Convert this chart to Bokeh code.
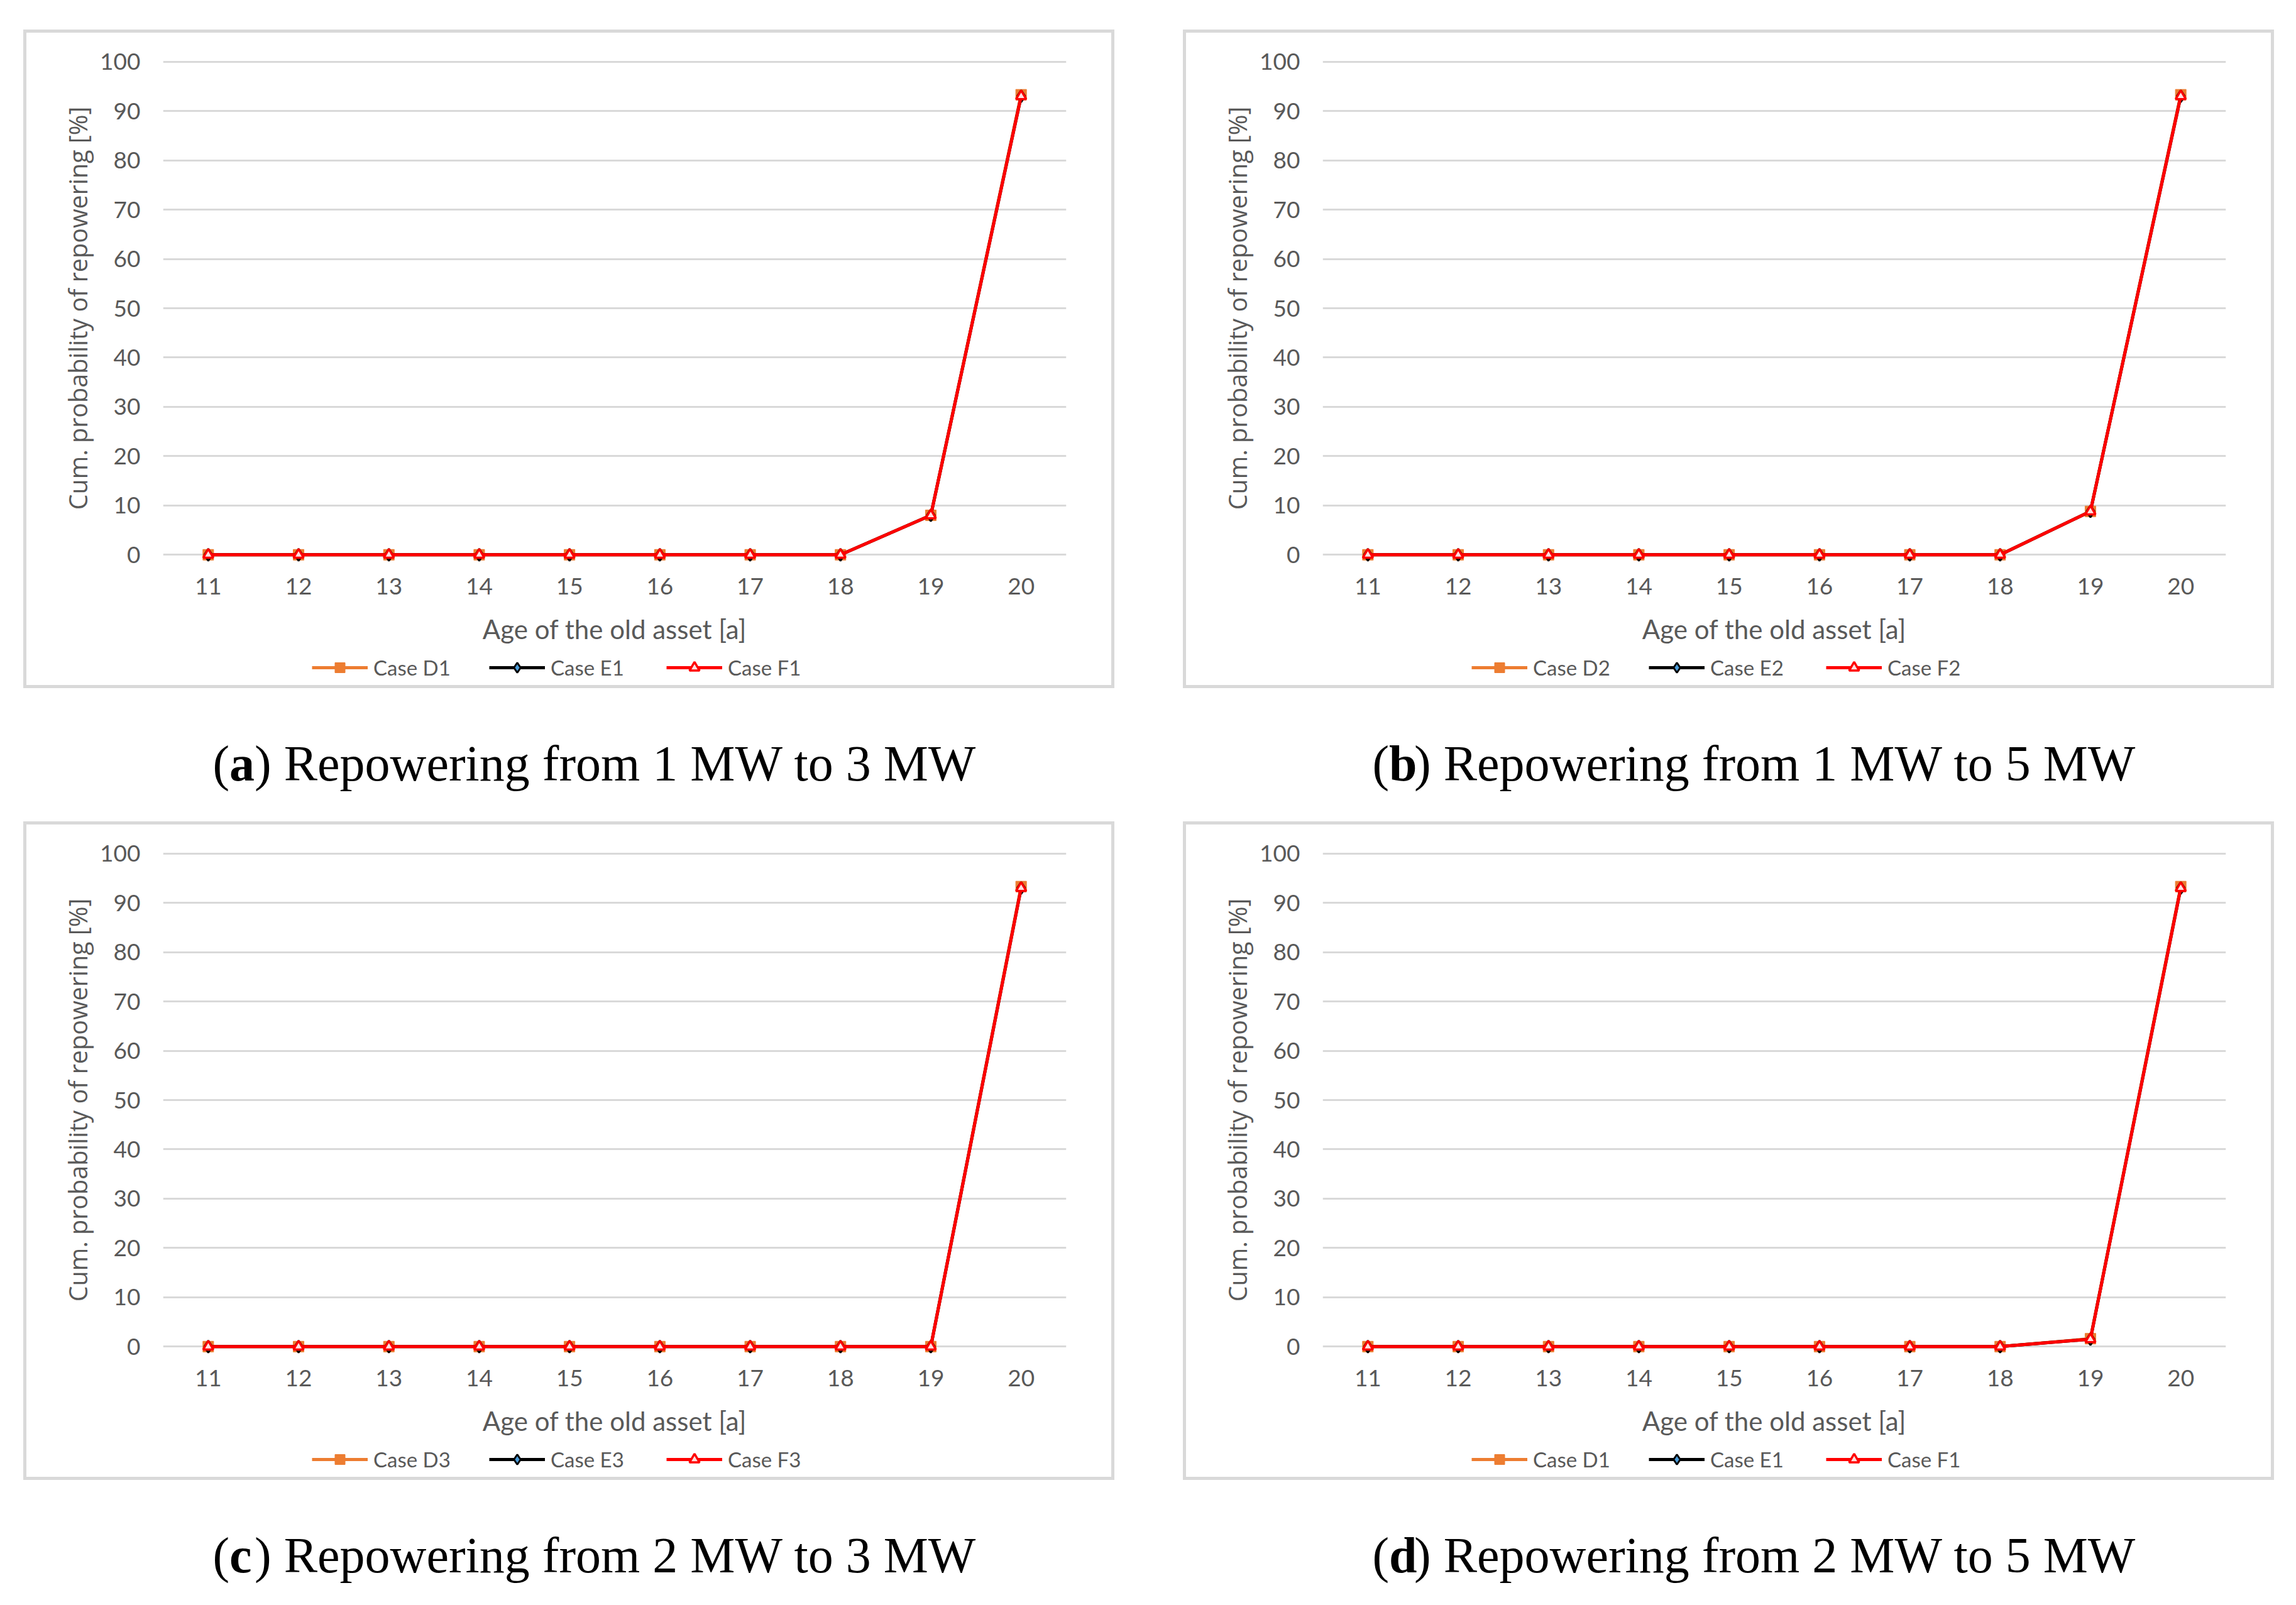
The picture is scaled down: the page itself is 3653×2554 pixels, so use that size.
from bokeh.plotting import figure
from bokeh.models import FactorRange, Range1d, FixedTicker, Legend, LegendItem
from bokeh.layouts import column, row
from bokeh.embed import file_html
from bokeh.resources import INLINE
from bokeh.core.properties import value

# ---------------- data ----------------
ages = ["11", "12", "13", "14", "15", "16", "17", "18", "19", "20"]
y_ticks = [0, 10, 20, 30, 40, 50, 60, 70, 80, 90, 100]

a_D = [0, 0, 0, 0, 0, 0, 0, 0, 8, 93.3]
a_E = [0, 0, 0, 0, 0, 0, 0, 0, 8, 93]
a_F = [0, 0, 0, 0, 0, 0, 0, 0, 8, 93]

b_D = [0, 0, 0, 0, 0, 0, 0, 0, 8.8, 93.3]
b_E = [0, 0, 0, 0, 0, 0, 0, 0, 8.8, 93]
b_F = [0, 0, 0, 0, 0, 0, 0, 0, 8.8, 93]

c_D = [0, 0, 0, 0, 0, 0, 0, 0, 0, 93.3]
c_E = [0, 0, 0, 0, 0, 0, 0, 0, 0, 93]
c_F = [0, 0, 0, 0, 0, 0, 0, 0, 0, 93]

d_D = [0, 0, 0, 0, 0, 0, 0, 0, 1.6, 93.3]
d_E = [0, 0, 0, 0, 0, 0, 0, 0, 1.5, 93]
d_F = [0, 0, 0, 0, 0, 0, 0, 0, 1.5, 93]

names_a = ["Case D1", "Case E1", "Case F1"]
names_b = ["Case D2", "Case E2", "Case F2"]
names_c = ["Case D3", "Case E3", "Case F3"]
names_d = ["Case D1", "Case E1", "Case F1"]

cap_a = ("a", ") Repowering from 1 MW to 3 MW")
cap_b = ("b", ") Repowering from 1 MW to 5 MW")
cap_c = ("c", ") Repowering from 2 MW to 3 MW")
cap_d = ("d", ") Repowering from 2 MW to 5 MW")

x_title = "Age of the old asset [a]"
y_title = "Cum. probability of repowering [%]"

# ---------------- style ----------------
ORANGE = "#ED7D31"
BLACK = "#000000"
RED = "#FF0000"
BLUE = "#4A9BD8"
GRID = "#D9D9D9"
TXT = "#595959"

W = 1726            # inner width of a bordered chart box
H_CHART = 988       # plot figure height inside the box
H_LEG = 50          # legend strip height inside the box
ML, MR, MT = 217, 72, 30
MB = H_CHART - MT - 816

STYLE = dict(
    D=dict(line=ORANGE, marker="square", size=17, fill=ORANGE, mline=ORANGE, mw=1),
    E=dict(line=BLACK, marker="diamond", size=19, fill=BLUE, mline=BLACK, mw=3),
    F=dict(line=RED, marker="triangle", size=16, fill="#FFE0E0", mline=RED, mw=3.5),
)


def draw_series(p, xs, ys, st):
    rl = p.line(xs, ys, line_color=st["line"], line_width=5)
    rm = p.scatter(xs, ys, marker=st["marker"], size=st["size"],
                   fill_color=st["fill"], line_color=st["mline"],
                   line_width=st["mw"])
    return [rl, rm]


def make_chart(dv, ev, fv):
    p = figure(width=W, height=H_CHART,
               x_range=FactorRange(*ages), y_range=Range1d(-2, 102),
               output_backend="svg", toolbar_location=None,
               min_border_left=ML, min_border_right=MR,
               min_border_top=MT, min_border_bottom=MB,
               outline_line_color=None)
    draw_series(p, ages, dv, STYLE["D"])
    draw_series(p, ages, ev, STYLE["E"])
    draw_series(p, ages, fv, STYLE["F"])

    p.xgrid.grid_line_color = None
    p.ygrid.grid_line_color = GRID
    p.ygrid.grid_line_width = 3
    p.yaxis.ticker = FixedTicker(ticks=y_ticks)

    for ax in (p.xaxis[0], p.yaxis[0]):
        ax.axis_line_color = None
        ax.major_tick_line_color = None
        ax.minor_tick_line_color = None
        ax.major_label_text_color = TXT
        ax.axis_label_text_color = TXT
        ax.axis_label_text_font_style = "normal"
        ax.major_label_text_font = "Lato"
        ax.major_label_text_font_size = "37px"

    p.xaxis.major_label_standoff = 15
    p.xaxis.axis_label = x_title
    p.xaxis.axis_label_text_font = "Lato"
    p.xaxis.axis_label_text_font_size = "42px"
    p.xaxis.axis_label_standoff = 27

    p.yaxis.major_label_standoff = 30
    p.yaxis.axis_label = y_title
    p.yaxis.axis_label_text_font = "Open Sans"
    p.yaxis.axis_label_text_font_size = "39.5px"
    p.yaxis.axis_label_standoff = 5
    return p


def make_legend_strip(names, series):
    q = figure(width=W, height=H_LEG, x_range=Range1d(ML, W - MR),
               y_range=Range1d(0, H_LEG), x_axis_type=None, y_axis_type=None,
               min_border_left=ML, min_border_right=MR,
               min_border_top=0, min_border_bottom=0,
               output_backend="svg", toolbar_location=None,
               outline_line_color=None)
    q.grid.visible = False
    # legend-only renderers: category indices lie left of this strip's
    # visible x span, so only their legend glyphs show
    idx = list(range(len(ages)))
    items = []
    for nm, key, ys in zip(names, ["D", "E", "F"], series):
        rs = draw_series(q, idx, ys, STYLE[key])
        items.append(LegendItem(label=nm, renderers=rs))
    legend = Legend(items=items, orientation="horizontal",
                    location=(237, 8), padding=0, margin=0, spacing=9,
                    glyph_width=89, glyph_height=40,
                    label_width=175, label_height=40, label_standoff=9,
                    label_text_font="Lato", label_text_font_size="33px",
                    label_text_color=TXT,
                    border_line_color=None, background_fill_alpha=0)
    q.add_layout(legend)
    return q


def make_caption(cap, h):
    c = figure(width=W, height=h, x_range=Range1d(ML, W - MR),
               y_range=Range1d(0, h), x_axis_type=None, y_axis_type=None,
               min_border_left=ML, min_border_right=MR,
               min_border_top=0, min_border_bottom=0,
               output_backend="svg", toolbar_location=None,
               outline_line_color=None)
    c.grid.visible = False
    yc = h - 119
    x0 = 301
    common = dict(text_font=value("Liberation Serif"), text_font_size="80px",
                  text_baseline="middle", text_align="left",
                  text_color="#000000")
    c.text(x=[x0], y=[yc], text=["("], **common)
    c.text(x=[x0 + 26.6], y=[yc], text=[cap[0]], text_font_style="bold",
           **common)
    c.text(x=[x0 + 66.6], y=[yc], text=[cap[1]], **common)
    return c


BOX = {"border": "5px solid #d9d9d9", "box-sizing": "content-box"}


def panel(vals, names, cap, cap_h):
    box = column(make_chart(*vals), make_legend_strip(names, vals), spacing=0,
                 styles=BOX)
    return column(box, make_caption(cap, cap_h), spacing=0)


layout = column(
    row(panel((a_D, a_E, a_F), names_a, cap_a, 212),
        panel((b_D, b_E, b_F), names_b, cap_b, 212), spacing=109),
    row(panel((c_D, c_E, c_F), names_c, cap_c, 170),
        panel((d_D, d_E, d_F), names_d, cap_d, 170), spacing=109),
    margin=(47, 0, 0, 37))

open("out.html", "w").write(file_html(layout, INLINE))
